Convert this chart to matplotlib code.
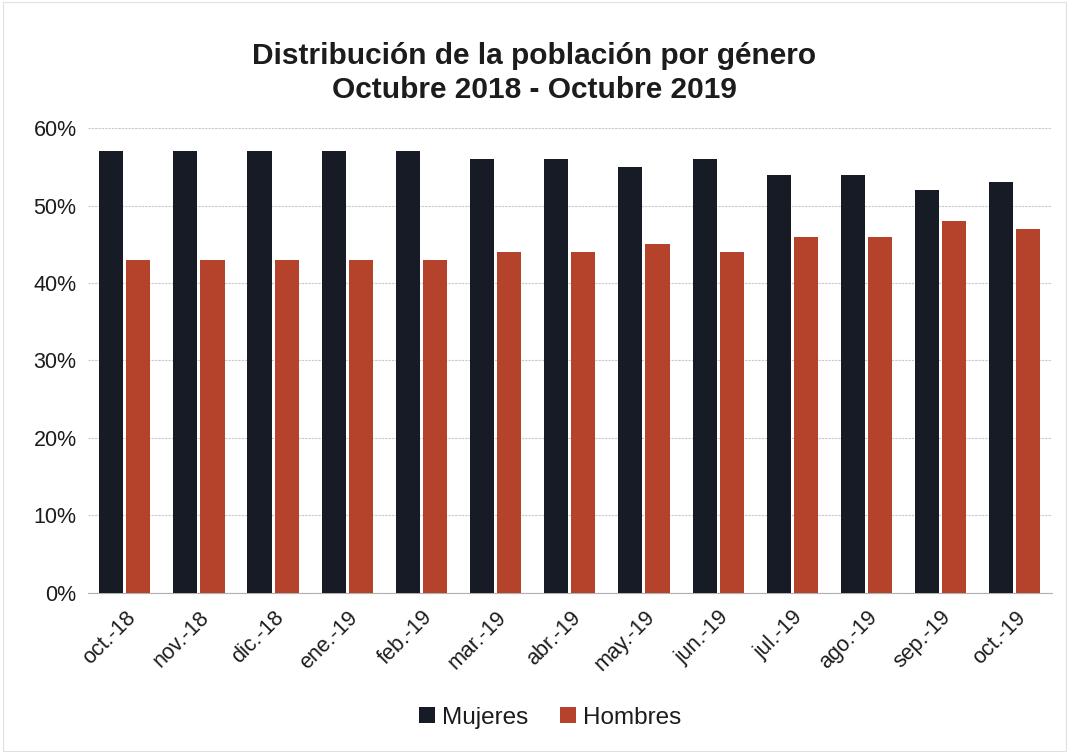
import numpy as np
import matplotlib
matplotlib.use("Agg")
import matplotlib.pyplot as plt
from matplotlib.ticker import PercentFormatter

meses = ["oct.-18", "nov.-18", "dic.-18", "ene.-19", "feb.-19", "mar.-19", "abr.-19",
         "may.-19", "jun.-19", "jul.-19", "ago.-19", "sep.-19", "oct.-19"]
mujeres = [57, 57, 57, 57, 57, 56, 56, 55, 56, 54, 54, 52, 53]
hombres = [43, 43, 43, 43, 43, 44, 44, 45, 44, 46, 46, 48, 47]

plt.rcParams["font.family"] = ["Liberation Sans", "DejaVu Sans"]
plt.rcParams["text.color"] = "#1c1c1c"
plt.rcParams["xtick.color"] = "#1c1c1c"
plt.rcParams["ytick.color"] = "#1c1c1c"

fig = plt.figure(figsize=(10.69, 7.53), dpi=100)
ax = fig.add_axes([0.082, 0.2125, 0.902, 0.6175])

x = np.arange(len(meses))
w = 0.325
ax.bar(x - w / 2 - 0.02, mujeres, w, color="#161b26", label="Mujeres", zorder=3)
ax.bar(x + w / 2 + 0.02, hombres, w, color="#b5432c", label="Hombres", zorder=3)

ax.set_xlim(-0.5, len(meses) - 0.5)
ax.set_ylim(0, 60)
ax.set_yticks(range(0, 61, 10))
ax.yaxis.set_major_formatter(PercentFormatter(decimals=0))
ax.set_xticks(x)
ax.set_xticklabels(meses, rotation=45, ha="right", rotation_mode="anchor")
ax.tick_params(axis="both", length=0, labelsize=15.5, pad=8)
ax.tick_params(axis="x", pad=10)
ax.grid(axis="y", color="#c8c8c8", linestyle=(0, (2, 1)), linewidth=0.8, zorder=0)
for s in ["top", "right", "left"]:
    ax.spines[s].set_visible(False)
ax.spines["bottom"].set_color("#b0b0b0")

fig.text(0.5, 0.926, "Distribución de la población por género", ha="center", va="center",
         fontsize=21.5, fontweight="bold")
fig.text(0.5, 0.881, "Octubre 2018 - Octubre 2019", ha="center", va="center",
         fontsize=21.5, fontweight="bold")

fig.legend(loc="center", bbox_to_anchor=(0.515, 0.047), ncol=2, frameon=False,
           fontsize=17.5, handlelength=0.65, handleheight=0.65, handletextpad=0.3,
           columnspacing=1.3)

fig.patches.append(plt.Rectangle((0.003, 0.003), 0.994, 0.994, transform=fig.transFigure,
                                 fill=False, edgecolor="#e0e0e0", linewidth=0.8))

fig.savefig("out.png", dpi=100)
